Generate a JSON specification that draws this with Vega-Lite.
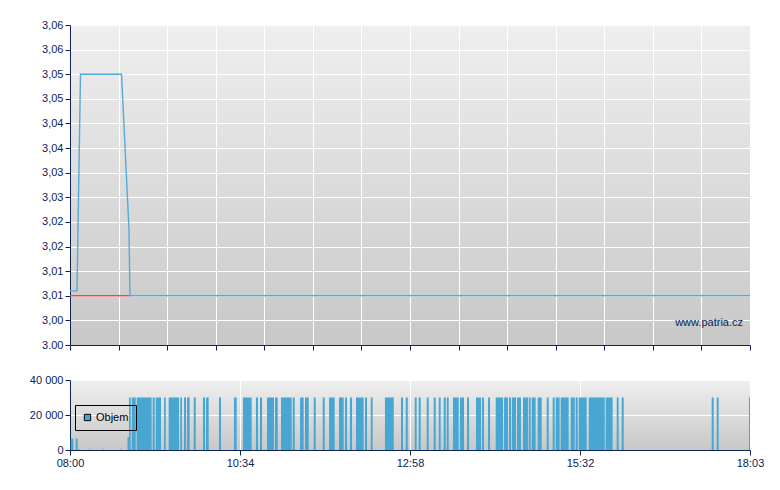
{
  "$schema": "https://vega.github.io/schema/vega-lite/v6.json",
  "padding": {"left": 29, "top": 19, "right": 0, "bottom": 0},
  "background": "white",
  "bounds": "flush",
  "spacing": 35,
  "resolve": {"legend": {"color": "independent"}},
  "config": {
    "font": "Liberation Sans",
    "view": {"stroke": null, "fill": {"gradient": "linear", "x1": 0, "y1": 0, "x2": 0, "y2": 1, "stops": [{"offset": 0, "color": "#efefef"}, {"offset": 1, "color": "#c8c8c8"}]}},
    "axis": {"domainColor": "#0d2556", "tickColor": "#0d2556", "labelColor": "#0d2556", "labelFontSize": 11, "gridColor": "white", "gridOpacity": 1, "gridWidth": 1, "tickSize": 5, "labelPadding": 2, "title": null, "domainWidth": 1, "labelOverlap": false}
  },
  "datasets": {
    "price": [
      {"t": 0, "p": 3.011}, {"t": 6.2, "p": 3.011}, {"t": 9.3, "p": 3.055}, {"t": 45.7, "p": 3.055},
      {"t": 52.3, "p": 3.0235}, {"t": 53.2, "p": 3.010}, {"t": 603, "p": 3.010}
    ],
    "ref": [{"t": 0, "p": 3.010}, {"t": 53.2, "p": 3.010}],
    "volume": [
      {"t0": 0.6, "t1": 3.0, "v": 6500}, {"t0": 5.1, "t1": 6.8, "v": 6500},
      {"t0": 8.0, "t1": 8.9, "v": 500}, {"t0": 16.8, "t1": 17.7, "v": 500},
      {"t0": 29.3, "t1": 30.2, "v": 500}, {"t0": 44.8, "t1": 45.7, "v": 500},
      {"t0": 51.0, "t1": 52.3, "v": 7500},
      {"t0": 52.3, "t1": 53.8, "v": 30000}, {"t0": 54.7, "t1": 58.3, "v": 30000},
      {"t0": 59.1, "t1": 72.4, "v": 30000}, {"t0": 73.3, "t1": 75.1, "v": 30000},
      {"t0": 76.0, "t1": 80.7, "v": 30000}, {"t0": 83.4, "t1": 84.9, "v": 30000},
      {"t0": 87.5, "t1": 96.7, "v": 30000}, {"t0": 97.8, "t1": 99.3, "v": 30000},
      {"t0": 101.1, "t1": 102.9, "v": 30000}, {"t0": 103.8, "t1": 106.1, "v": 30000},
      {"t0": 109.7, "t1": 111.5, "v": 30000}, {"t0": 117.9, "t1": 119.7, "v": 30000},
      {"t0": 120.6, "t1": 123.0, "v": 30000}, {"t0": 132.1, "t1": 133.9, "v": 30000},
      {"t0": 145.4, "t1": 147.8, "v": 30000}, {"t0": 153.4, "t1": 161.1, "v": 30000},
      {"t0": 164.9, "t1": 166.7, "v": 30000}, {"t0": 168.5, "t1": 170.3, "v": 30000},
      {"t0": 174.7, "t1": 180.9, "v": 30000}, {"t0": 181.8, "t1": 184.2, "v": 30000},
      {"t0": 187.1, "t1": 196.6, "v": 30000}, {"t0": 197.5, "t1": 199.3, "v": 30000},
      {"t0": 204.0, "t1": 207.2, "v": 30000}, {"t0": 208.4, "t1": 211.7, "v": 30000},
      {"t0": 216.1, "t1": 217.9, "v": 30000}, {"t0": 224.1, "t1": 225.9, "v": 30000},
      {"t0": 229.7, "t1": 234.7, "v": 30000}, {"t0": 238.5, "t1": 242.7, "v": 30000},
      {"t0": 243.9, "t1": 245.6, "v": 30000}, {"t0": 248.3, "t1": 250.1, "v": 30000},
      {"t0": 253.6, "t1": 260.4, "v": 30000}, {"t0": 261.6, "t1": 263.4, "v": 30000},
      {"t0": 266.7, "t1": 268.4, "v": 30000}, {"t0": 279.3, "t1": 287.1, "v": 30000},
      {"t0": 293.5, "t1": 295.3, "v": 30000}, {"t0": 297.7, "t1": 299.5, "v": 30000},
      {"t0": 305.7, "t1": 307.4, "v": 30000}, {"t0": 309.2, "t1": 311.0, "v": 30000},
      {"t0": 316.3, "t1": 318.1, "v": 30000}, {"t0": 322.5, "t1": 324.3, "v": 30000},
      {"t0": 327.0, "t1": 328.7, "v": 30000}, {"t0": 331.4, "t1": 333.2, "v": 30000},
      {"t0": 334.1, "t1": 335.8, "v": 30000}, {"t0": 339.6, "t1": 344.7, "v": 30000},
      {"t0": 345.8, "t1": 349.4, "v": 30000}, {"t0": 352.1, "t1": 353.9, "v": 30000},
      {"t0": 360.0, "t1": 364.5, "v": 30000}, {"t0": 365.4, "t1": 367.1, "v": 30000},
      {"t0": 370.7, "t1": 372.5, "v": 30000}, {"t0": 377.5, "t1": 384.0, "v": 30000},
      {"t0": 384.9, "t1": 388.4, "v": 30000}, {"t0": 389.3, "t1": 391.1, "v": 30000},
      {"t0": 391.9, "t1": 395.5, "v": 30000}, {"t0": 396.4, "t1": 399.9, "v": 30000},
      {"t0": 401.7, "t1": 406.1, "v": 30000}, {"t0": 406.8, "t1": 408.5, "v": 30000},
      {"t0": 409.4, "t1": 412.9, "v": 30000}, {"t0": 414.7, "t1": 418.3, "v": 30000},
      {"t0": 422.7, "t1": 424.5, "v": 30000}, {"t0": 428.0, "t1": 429.8, "v": 30000},
      {"t0": 430.7, "t1": 434.2, "v": 30000}, {"t0": 435.1, "t1": 442.2, "v": 30000},
      {"t0": 444.0, "t1": 447.6, "v": 30000}, {"t0": 448.4, "t1": 450.2, "v": 30000},
      {"t0": 451.1, "t1": 458.2, "v": 30000}, {"t0": 460.0, "t1": 474.2, "v": 30000},
      {"t0": 475.0, "t1": 481.2, "v": 30000}, {"t0": 484.8, "t1": 486.5, "v": 30000},
      {"t0": 489.2, "t1": 491.0, "v": 30000}, {"t0": 569.0, "t1": 570.8, "v": 30000},
      {"t0": 573.5, "t1": 575.2, "v": 30000}, {"t0": 602.1, "t1": 603.0, "v": 30000}
    ]
  },
  "vconcat": [
    {
      "width": 680,
      "height": 320,
      "layer": [
        {
          "data": {"name": "ref"},
          "mark": {"type": "line", "color": "#e05050", "strokeWidth": 1.5},
          "encoding": {
            "x": {"field": "t", "type": "quantitative", "scale": {"domain": [0, 603], "nice": false, "zero": false},
                  "axis": {"values": [0, 43.07, 86.14, 129.21, 172.29, 215.36, 258.43, 301.5, 344.57, 387.64, 430.71, 473.79, 516.86, 559.93, 603], "tickCount": 30, "labels": false, "grid": true}},
            "y": {"field": "p", "type": "quantitative", "scale": {"domain": [3.0, 3.065], "nice": false, "zero": false},
                  "axis": {"values": [3.0, 3.005, 3.01, 3.015, 3.02, 3.025, 3.03, 3.035, 3.04, 3.045, 3.05, 3.055, 3.06, 3.065], "tickCount": 30, "grid": true,
                           "labelExpr": "datum.value < 3.001 ? '3.00' : replace(format(floor(datum.value*100+0.01)/100, '.2f'), '.', ',')"}}
          }
        },
        {
          "data": {"name": "price"},
          "mark": {"type": "line", "color": "#55aad8", "strokeWidth": 1.4},
          "encoding": {
            "x": {"field": "t", "type": "quantitative"},
            "y": {"field": "p", "type": "quantitative"}
          }
        },
        {
          "data": {"values": [{"label": "www.patria.cz"}]},
          "mark": {"type": "text", "align": "right", "baseline": "middle", "fontSize": 11, "color": "#0d2556"},
          "encoding": {
            "x": {"datum": 596.8},
            "y": {"datum": 3.0045},
            "text": {"field": "label"}
          }
        }
      ]
    },
    {
      "width": 680,
      "height": 70,
      "data": {"name": "volume"},
      "mark": {"type": "rect"},
      "encoding": {
        "x": {"field": "t0", "type": "quantitative", "scale": {"domain": [0, 603], "nice": false, "zero": false},
              "axis": {"values": [0, 150.75, 301.5, 452.25, 603], "grid": true, "labelFlush": false,
                       "labelExpr": "datum.value < 1 ? '08:00' : datum.value < 151 ? '10:34' : datum.value < 302 ? '12:58' : datum.value < 453 ? '15:32' : '18:03'"}},
        "x2": {"field": "t1"},
        "y": {"field": "v", "type": "quantitative", "scale": {"domain": [0, 40000], "nice": false},
              "axis": {"values": [0, 20000, 40000], "tickCount": 10, "grid": true, "labelExpr": "replace(format(datum.value, ','), ',', ' ')"}},
        "y2": {"datum": 0},
        "color": {"datum": "Objem", "type": "nominal", "scale": {"range": ["#47a7d2"]},
                  "legend": {"orient": "none", "legendX": 5, "legendY": 25, "title": null, "strokeColor": "black", "padding": 7,
                             "symbolType": "square", "symbolSize": 40, "symbolStrokeColor": "black", "symbolStrokeWidth": 1, "symbolOpacity": 1,
                             "labelFontSize": 11, "labelColor": "black", "labelOffset": 3}}
      }
    }
  ]
}
